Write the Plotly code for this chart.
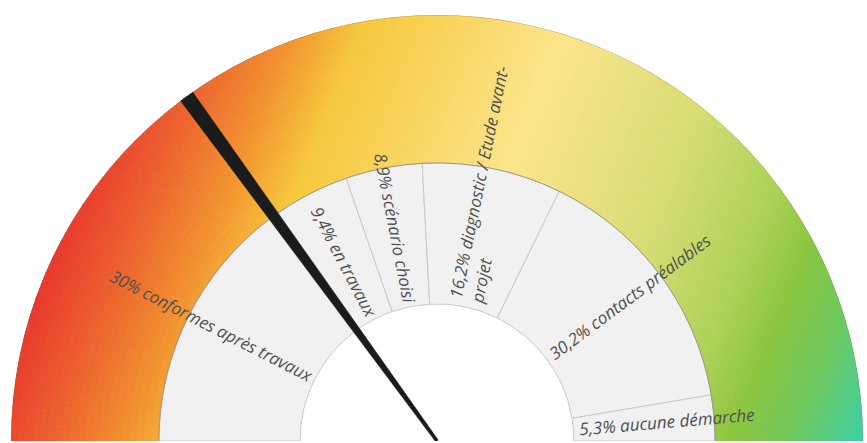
import numpy as np
import plotly.graph_objects as go

# ---------------- data ----------------
labels = [
    "30% conformes après travaux",
    "9,4% en travaux",
    "8,9% scénario choisi",
    "16,2% diagnostic / Etude avant-<br>projet",
    "30,2% contacts préalables",
    "5,3% aucune démarche",
]
values = [30, 9.4, 8.9, 16.2, 30.2, 5.3]
needle_value = 30
scale_max = 100

# ---------------- geometry (pixels) ----------------
W, H = 867, 443
CX, CY = 437, 441          # gauge centre (px, from top-left)
R_OUT, R_MID, R_HOLE = 426, 278, 137
FONT_SIZE = 17

def to_px(r, th_deg):
    th = np.radians(th_deg)
    return CX + r * np.cos(th), CY - r * np.sin(th)

def val_to_deg(v):
    return 180.0 - 180.0 * v / scale_max

# ---------------- gradient colours ----------------
stops = [
    (145, (232, 57, 46)),
    (215, (237, 100, 47)),
    (285, (242, 149, 48)),
    (345, (246, 200, 60)),
    (450, (249, 216, 104)),
    (535, (253, 229, 140)),
    (690, (214, 220, 116)),
    (790, (172, 209, 86)),
    (840, (140, 198, 63)),
    (900, (110, 200, 95)),
    (965, (60, 207, 166)),
]
st_t = np.array([s[0] for s in stops], float)
st_c = np.array([s[1] for s in stops], float)
ca, sa = np.cos(np.radians(22)), np.sin(np.radians(22))

def grad_color(r, th_deg):
    xp, yp = to_px(r, th_deg)
    t = xp * ca + yp * sa
    rgb = [np.interp(t, st_t, st_c[:, k]) for k in range(3)]
    return "rgb(%d,%d,%d)" % tuple(int(round(v)) for v in rgb)

ang_step = 0.75
n_rad = 20
rad_edges = np.linspace(R_MID, R_OUT, n_rad + 1)
g_theta, g_r, g_base, g_col = [], [], [], []
for a in np.arange(ang_step / 2, 180, ang_step):
    for k in range(n_rad):
        r0, r1 = rad_edges[k], rad_edges[k + 1]
        g_theta.append(a)
        g_base.append(r0)
        g_r.append(r1 - r0)
        g_col.append(grad_color((r0 + r1) / 2, a))

fig = go.Figure()

fig.add_trace(go.Barpolar(
    theta=g_theta, r=g_r, base=g_base, width=ang_step,
    marker=dict(color=g_col, line=dict(color=g_col, width=0.8)),
    hoverinfo="skip", showlegend=False,
))

# ring outlines
arc = np.linspace(0, 180, 361)
for rr in (R_OUT, R_MID):
    fig.add_trace(go.Scatterpolar(
        r=[rr] * len(arc), theta=arc, mode="lines",
        line=dict(color="rgba(110,85,50,0.45)", width=1),
        hoverinfo="skip", showlegend=False,
    ))

# grey segments
widths = [v * 180.0 / scale_max for v in values]
starts = []
acc = 0.0
for v in values:
    starts.append(val_to_deg(acc))
    acc += v
centers = [s - w / 2 for s, w in zip(starts, widths)]

fig.add_trace(go.Barpolar(
    theta=centers, width=widths,
    r=[R_MID - R_HOLE] * len(values), base=[R_HOLE] * len(values),
    marker=dict(color="#f1f1f1", line=dict(color="#c8c8c8", width=1)),
    hoverinfo="skip", showlegend=False,
))

# needle
na = val_to_deg(needle_value)
half_w = np.degrees(np.arctan(7.5 / R_OUT))
fig.add_trace(go.Scatterpolar(
    r=[R_OUT + 1, R_OUT + 1, 1.5, 1.5, R_OUT + 1],
    theta=[na - half_w, na + half_w, na + 90, na - 90, na - half_w],
    mode="lines", fill="toself", fillcolor="#1b1b1b",
    line=dict(color="#1b1b1b", width=0.5),
    hoverinfo="skip", showlegend=False,
))

# labels: anchored at the inner edge of the grey ring, oriented radially
annotations = []
for lab, th in zip(labels, centers):
    n_lines = lab.count("<br>") + 1
    h = FONT_SIZE * (1.36 + 1.3 * (n_lines - 1)) + 4
    if th > 90:
        alpha = np.radians(180 - th)          # clockwise rotation
        ex, ey = to_px(139, th)               # end of text
        px = ex + h / 2 * np.sin(alpha)
        py = ey + h / 2 * np.cos(alpha)
        xa, ya, ang, al = "right", "bottom", 180 - th, "right"
    else:
        beta = np.radians(th)                 # counter-clockwise rotation
        sx, sy = to_px(141, th)               # start of text
        px = sx - h / 2 * np.sin(beta)
        py = sy + h / 2 * np.cos(beta)
        xa, ya, ang, al = "left", "bottom", -th, "left"
    annotations.append(dict(
        x=px / W, y=(H - py) / H, xref="paper", yref="paper",
        text=lab, showarrow=False, textangle=ang,
        xanchor=xa, yanchor=ya, align=al,
        font=dict(family="Open Sans", size=FONT_SIZE, color="#505050", style="italic"),
    ))

fig.update_layout(
    width=W, height=H,
    margin=dict(l=0, r=0, t=0, b=0, pad=0),
    paper_bgcolor="white", plot_bgcolor="white",
    showlegend=False,
    annotations=annotations,
    polar=dict(
        domain=dict(x=[(CX - R_OUT) / W, (CX + R_OUT) / W],
                    y=[(H - CY) / H, (H - CY + R_OUT) / H]),
        sector=[0, 180],
        bgcolor="rgba(0,0,0,0)",
        bargap=0,
        radialaxis=dict(range=[0, R_OUT], visible=False, showgrid=False),
        angularaxis=dict(visible=False, showgrid=False, direction="counterclockwise", rotation=0),
    ),
)

fig.write_html(
    "out.html",
    config={"displayModeBar": False, "staticPlot": True},
    post_script="document.body.style.margin='0px';document.body.style.overflow='hidden';",
)
